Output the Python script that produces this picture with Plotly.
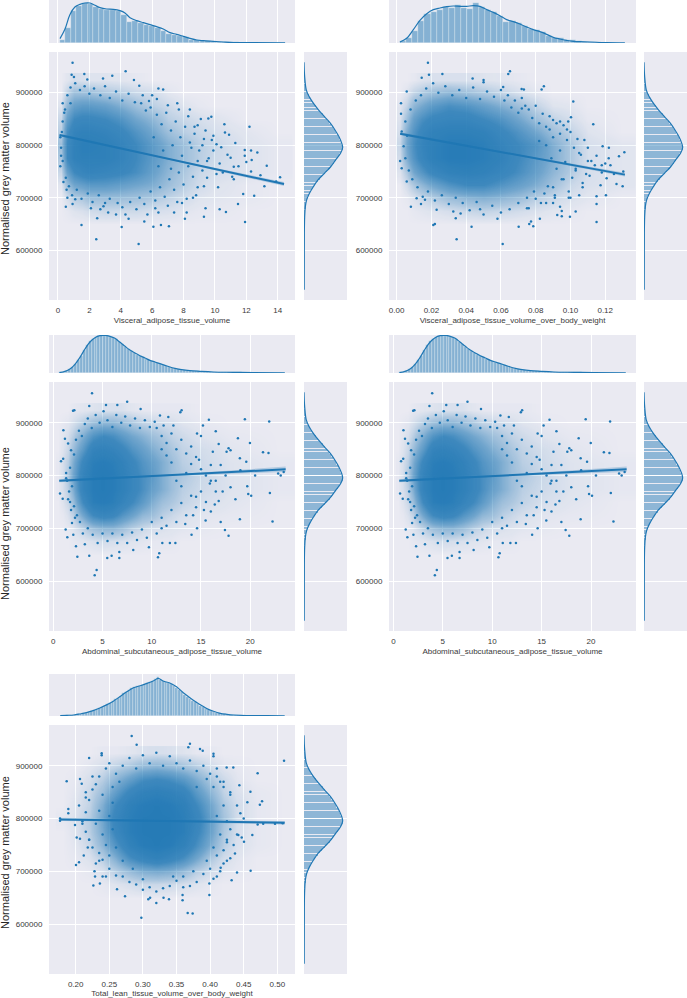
import numpy as np
import plotly.graph_objects as go

# NOTE: the reference holds thousands of dots that cannot be read one by one.
# The p*_pts / p*_more lists are a hand-read subset (outliers and the outer ring);
# the p*_dens grids are an eye-estimated density standing in for the solid centre.

# ---------- shared values ----------
y_ticks = [600000, 700000, 800000, 900000]
y_range = [505400, 977400]
y_rows = [650000, 675000, 700000, 725000, 750000, 775000, 800000, 825000, 850000, 875000, 900000, 925000]

# right marginal (same grey-matter values in every panel), relative heights
y_hist = [0.3,0,0,0,0,0,0,0,0,0,0,0,0,0,0,0.5,1,1,1.2,1,1,1,1.3,1.6,2,2.2,2.5,3,3.2,3.6,4.5,5.5,6.5,8,10,14,18,23,28,34,41,47,54,62,70,77,84,90,95,101,105,110,117,114,112,108,106,101,97,92,87,80,76,70,62,56,49,42,36,29,24,19,15,10,7,6,5,4,3,2,1.5,1,0.6,0.4,0.2]
y_kde_y = [958000,930400,905000,892000,880000,867000,854000,842000,829000,816000,804000,795500,785000,772000,759000,747000,734000,721000,708000,696000,683000,664000,632000,525000]
y_kde_h = [0,2,7,16,28,44,62,79,93,105,113,116,110,95,80,62,42,28,16,8,4,2,1,0.5]

# ---------- panel 1 ----------
p1_label = "Visceral_adipose_tissue_volume"
p1_ticks = [0, 2, 4, 6, 8, 10, 12, 14]
p1_hist = [10,45,95,112,120,118,107,103,100,98,96,85,63,65,60,55,50,45,37,26,24,20,17,10,8,7,6,4,3,3,2,2,1.5,1,1,1,1,0.7,0.5,0.5]
p1_kde_x = [.13,.45,.76,1.08,1.4,1.72,2.04,2.36,2.68,3.1,3.53,3.95,4.27,4.59,5.01,5.44,5.86,6.29,6.71,7.14,7.56,7.99,8.41,8.84,9.26,9.9,10.54,11.17,12.24,14.47]
p1_kde_h = [13,42,85,108,116,120,120,113,106,102,101,97,90,76,67,61,55,49,42,31,26,20,14,9,7,5,3,1.5,1,0.5]
p1_fit_x = [0.1, 7.0, 14.4]
p1_fit_y = [819500, 774000, 726000]
p1_fit_ci = [2500, 1200, 3800]
p1_pts_x = [.93,.87,1.02,1.68,1.87,2.87,3.46,4.31,4.84,5.18,2.44,5.14,1.5,4.06,6.08,6.56,7.07,11.92,8.09,9.3,2.5,.5,.93,12.2,9.77,9.58,10.64,11.3,11.9,12.3,12.7,13.3,14.15,13.9,13.15,12.5,11.8,11.47,10.7,10.3,12.9,12.3,12.34,11.9,11.2,6.7,6.4,6.0,7.6,8.4,9.1,10.6,10.9,9.8,9.2,8.7,9.5,10.1,8.9,3.2,4.3,3.8,2.1,1.1,.6,.2,.15,.3,.25,.4,8.2,7.9,8.6,9.4,10.2,11.1,4.5,5.5,6.2,7.4,3.0,2.7,.35,.55,.8]
p1_pts_y = [957,934,930,935.5,925,927,932,941,924,913,621,612,648,644.5,645,648,646,654,660,664,661,683,688,835,854,851,824,804,791,790,786,761,739,731,722,704,707,688,673,678,743,750,772,780,759,906,908,895,880,868,850,840,820,810,800,835,770,745,720,672,668,690,680,697,700,780,760,880,825,862,672,690,700,680,720,740,660,655,680,672,690,678,730,715,880]
p1_more = [(5.3,880),(5.6,866),(5.9,872),(6.3,858),(6.6,840),(6.9,862),(7.2,828),(7.5,845),(7.8,815),(8.1,835),(8.4,805),(8.7,822),(9.0,790),(9.3,812),(9.6,775),(5.2,700),(5.5,688),(5.9,712),(6.2,695),(6.5,720),(6.8,702),(7.1,735),(7.4,715),(7.7,748),(8,725),(8.3,760),(8.6,740),(8.9,770),(9.2,752),(9.5,738),(9.9,790),(10.3,765),(10.1,802),(10.5,748),(10.8,782),(11.2,735),(9.3,722),(8.8,705),(8.2,698),(7.6,692),(7.0,685),(6.4,672),(5.7,668),(5.0,678),(4.6,692),(4.1,682),(3.7,668),(3.3,698),(2.9,684),(2.6,705),(2.2,692),(1.9,708),(1.5,698),(1.2,715),(.9,705),(.7,722),(.5,738),(.3,770),(.2,795),(.15,815),(.3,845),(.45,868),(.6,895),(.8,910),(1.1,918),(1.4,905),(1.7,912),(2.0,898),(2.3,908),(2.7,895),(3.0,912),(3.3,890),(3.7,902),(4.1,885),(4.5,898),(4.9,882),(5.4,895),(5.8,884),(6.3,888),(7.0,876),(7.7,868),(8.3,855),(8.9,838),(9.4,828),(9.9,818),(10.4,796),(11.0,776),(11.5,760),(12.0,768),(7.3,800),(7.9,780),(8.5,795),(6.7,790),(6.1,815),(6.4,760),(7.2,755)]

# ---------- panel 2 ----------
p2_label = "Visceral_adipose_tissue_volume_over_body_weight"
p2_ticks = [0.0, 0.02, 0.04, 0.06, 0.08, 0.10, 0.12]
p2_hist = [5,15,37,65,88,92,100,108,106,115,105,103,120,108,100,92,80,62,65,60,52,42,38,33,22,16,14,10,8,5,4,3,2,1.5,1,1,0.8]
p2_kde_x = [.0019,.0058,.0096,.0134,.0173,.0211,.0249,.0288,.0326,.0364,.0403,.0441,.0479,.0518,.0556,.0594,.0633,.0671,.0709,.0748,.0786,.0824,.0863,.0901,.0939,.0978,.1016,.1054,.1112,.1208,.1313]
p2_kde_h = [3,14,40,68,88,100,105,109,111,110,110,112,110,100,92,82,70,64,57,48,40,34,26,17,12,8,5,4,3,1,0.5]
p2_fit_x = [0.002, 0.066, 0.1313]
p2_fit_y = [822000, 783500, 744000]
p2_fit_ci = [2500, 1200, 3500]
p2_pts_x = [.018,.0186,.0144,.0263,.0437,.05,.05,.0652,.0642,.0613,.0719,.0732,.0847,.0834,.1016,.1003,.0987,.1131,.1185,.1221,.131,.1279,.1304,.13,.1265,.123,.118,.1208,.1173,.115,.1204,.115,.115,.0997,.103,.094,.095,.0924,.0824,.0773,.0786,.0763,.0702,.061,.0345,.0431,.0211,.022,.034,.0082,.014,.023,.0326,.0368,.0029,.0025,.0025,.0058,.002,.0029,.0058,.0115,.0163,.108,.105,.112,.098,.094,.107,.103,.091,.086,.09,.096,.099,.109,.088,.072,.076,.058,.048]
p2_pts_y = [957,934,928.5,935.5,927,924,920,941,935.5,911,907,906,912,906,883,853,845,840,798,795,786.5,779,750,722,726,762,762,737,724,703,705,688,654,664,674,683,675,667,660,655,646,650,645,612,621,645,648,650,661,683,688,677,674,670,826,860,880,902,770,756,731,699,696,810,785,770,830,845,720,755,700,690,720,735,700,745,830,870,680,660,678]
p2_more = [(.062,885),(.066,872),(.07,862),(.074,875),(.078,852),(.082,842),(.086,835),(.09,848),(.094,822),(.098,810),(.102,795),(.106,782),(.11,770),(.114,762),(.118,748),(.122,775),(.075,700),(.079,712),(.083,690),(.087,722),(.091,705),(.095,735),(.099,712),(.103,752),(.107,728),(.111,742),(.092,755),(.097,768),(.101,738),(.105,705),(.089,775),(.094,790),(.086,800),(.082,808),(.09,815),(.096,838),(.07,690),(.065,678),(.06,672),(.055,685),(.05,668),(.046,692),(.042,676),(.038,690),(.034,700),(.03,688),(.026,705),(.022,695),(.018,712),(.015,702),(.012,720),(.009,735),(.007,752),(.005,775),(.004,798),(.006,818),(.005,845),(.008,868),(.011,885),(.014,895),(.017,908),(.021,918),(.024,900),(.028,912),(.032,895),(.036,905),(.04,890),(.044,910),(.048,888),(.052,902),(.056,892),(.06,905),(.064,895),(.068,885),(.072,890),(.076,868),(.08,875),(.084,860),(.088,855),(.092,842),(.1,825),(.104,812),(.11,795),(.115,780),(.12,765),(.125,745),(.075,680),(.08,698),(.085,708),(.09,690),(.095,665),(.1,700)]

# ---------- panels 3 and 4 (same abdominal values) ----------
p3_label = "Abdominal_subcutaneous_adipose_tissue_volume"
p3_ticks = [0, 5, 10, 15, 20]
p3_hist = [2,4,7,12,18,27,40,52,70,83,96,102,108,111,113,112,111,108,104,102,92,86,78,72,66,61,55,52,47,42,39,36,32,30,27,24,21,18,15,13,11,10,9,7,7,6,5,5,4,4,3,3,3,3,2,2,2,2,2,2,2,2,1.5,1.5,1.5,1,1,1,1,1,1,1,1,1,1,0.7,0.7]
p3_kde_x = [.61,1.18,1.69,2.2,2.71,3.21,3.72,4.23,4.74,5.25,5.75,6.26,6.77,7.28,7.78,8.29,8.8,9.31,9.81,10.32,10.83,11.34,11.84,12.35,13.03,13.87,14.89,16.24,18.27,20.3,23.52]
p3_kde_h = [1,5,12,26,47,72,93,106,112,113,110,104,92,80,69,60,52,45,38,33,28,23,18,14,10,7,5,3,2,1,0.7]
p3_fit_x = [0.6, 12.0, 23.6]
p3_fit_y = [790000, 801000, 812000]
p3_fit_ci = [2500, 1200, 5000]
p3_pts_x = [3.93,3.65,2.0,2.13,5.35,6.5,7.5,8.87,13.03,12.9,11.68,10.83,15.8,19.46,21.93,19.97,18.75,21.3,21.86,17.8,17.6,18.95,19.6,22.84,23.4,23.1,20.5,22.0,20.1,19.8,19.7,22.27,18.95,17,17.43,17.8,15.47,14.04,12.4,11.84,11.07,10.76,10.63,9.71,8.12,6.7,6.7,5.92,5.48,4.4,4.2,3.65,2.44,2.3,1.42,1.25,2.03,3.2,.68,.95,.78,1.02,1.18,1.0,1.5,16.5,15.2,16.2,14.8,15.9,17.2,16.4,14.5,15.3,16.8,14.2,13.4,14.6,16,15,1.3,1.7,1.6,2.2,1.9]
p3_pts_y = [956,932,923,924,933.6,934,940,926,924,920,911,914,906,907,902.5,862,871,844,843,852,845,833,826,804,807,800,800,767,762,765,780,713,717,712,697,686,715,688,672,672,672,653,645,664,659,655,644,648,644,621,611,648,646,666,683,698,688,670,766,756,827,886,870,832,861,884,895,845,830,785,770,745,760,735,752,725,708,700,820,875,795,750,770,720,710]
p3_more = [(10.5,890),(11,875),(11.5,862),(12,880),(12.5,850),(13,868),(13.5,842),(14,855),(14.5,835),(15,812),(15.5,800),(16,790),(16.5,770),(17,820),(17.5,800),(18,778),(18.5,755),(19,810),(11,720),(11.5,705),(12,735),(12.5,712),(13,748),(13.5,725),(14,762),(14.5,740),(15,770),(15.5,750),(16,732),(16.5,790),(13,780),(13.5,805),(14,822),(12.5,790),(12,825),(11.5,838),(11,850),(11,700),(10.5,690),(10,712),(9.5,682),(9,698),(8.5,678),(8,692),(7.5,672),(7,688),(6.5,672),(6,690),(5.5,676),(5,690),(4.5,672),(4,688),(3.5,700),(3,690),(2.7,712),(2.4,725),(2.1,742),(1.8,735),(1.5,755),(1.9,780),(1.4,790),(1.7,815),(1.3,805),(2.1,840),(1.8,848),(2.3,868),(2.6,885),(2.9,875),(3.2,898),(3.5,908),(3.9,890),(4.3,915),(4.7,900),(5.1,922),(5.5,905),(6,892),(6.4,915),(6.9,900),(7.3,912),(7.8,895),(8.3,908),(8.8,890),(9.3,905),(9.8,892),(10.3,902),(11.2,895),(12.2,895),(14.6,880),(16.8,860),(18,848)]

# ---------- panel 5 ----------
p5_label = "Total_lean_tissue_volume_over_body_weight"
p5_ticks = [0.20, 0.25, 0.30, 0.35, 0.40, 0.45, 0.50]
p5_hist = [1,1.5,2,2.5,3,4,5,6,8,10,12,15,18,21,24,28,31,35,40,44,50,55,61,67,72,77,82,85,88,90,92,96,99,102,105,110,116,108,103,100,98,94,90,82,76,70,63,57,52,46,41,35,31,26,22,18,15,12,10,8,6.5,5,4,3.5,3,2.5,2,2,1.5,1.5,1.2,1,1,1,1,1,1,1,1,1,1,1,1,1]
p5_kde_x = [.177,.187,.197,.206,.216,.226,.236,.246,.256,.266,.276,.286,.296,.306,.316,.323,.330,.340,.350,.358,.365,.375,.385,.395,.405,.415,.425,.435,.454,.484,.511]
p5_kde_h = [1,2,3,6,10,16,24,33,44,58,72,84,90,97,105,112,104,98,87,73,62,47,34,22,14,8,5,3,1.5,1,0.7]
p5_fit_x = [0.177, 0.34, 0.511]
p5_fit_y = [798500, 795300, 792000]
p5_fit_ci = [3000, 1200, 3500]
p5_pts_x = [.2833,.2907,.37,.3676,.385,.389,.405,.405,.2387,.2387,.22,.51,.4707,.4345,.4246,.1866,.2064,.209,.46,.4773,.474,.4554,.4435,.189,.189,.1767,.1767,.4707,.479,.4965,.508,.4628,.4504,.447,.442,.437,.4603,.44,.432,.4157,.405,.3989,.3989,.374,.3666,.359,.359,.2977,.3388,.3307,.32,.3107,.308,.2734,.2615,.2263,.2288,.2005,.205,.236,.2015,.2064,.199,.43,.42,.41,.445,.425,.215,.225,.21,.218,.235,.212,.228,.22,.24,.425,.415]
p5_pts_y = [956.4,940,942,935,932,928.5,923,918,924,920,915,909.5,886,897,897,871,875,866,851,833,826,831,863,818,810,796,800,789,790,790,791,769,756,764,769,734,701,698,683,707,686,677,655,620,621,645,655,612,647,650,640,650,647,653,666,673,690,712,717,677,764,762,788,850,870,880,810,760,840,880,790,745,720,730,700,760,690,720,700]
p5_more = [(.235,880),(.245,895),(.25,905),(.26,885),(.27,900),(.28,915),(.29,895),(.3,920),(.31,905),(.32,925),(.33,900),(.34,918),(.35,905),(.36,895),(.37,910),(.38,890),(.39,900),(.4,885),(.41,895),(.42,860),(.43,845),(.44,825),(.45,800),(.43,780),(.44,770),(.425,755),(.435,750),(.42,740),(.43,725),(.41,730),(.42,715),(.40,705),(.41,690),(.39,695),(.38,680),(.37,672),(.36,670),(.35,682),(.34,672),(.33,668),(.32,662),(.31,670),(.3,665),(.29,675),(.28,680),(.27,690),(.26,692),(.25,705),(.245,690),(.24,722),(.235,735),(.23,715),(.225,745),(.22,760),(.215,775),(.21,795),(.215,812),(.205,825),(.22,835),(.215,850),(.23,865),(.225,855),(.24,845),(.235,815),(.23,790),(.24,770),(.245,750),(.25,730),(.255,860),(.265,870),(.415,870),(.405,860),(.42,825),(.41,805),(.425,795),(.415,770),(.405,745),(.395,720),(.375,700),(.36,690),(.3,685),(.285,705),(.27,720),(.26,745),(.255,780),(.25,805),(.255,830),(.395,875),(.38,860),(.345,690)]

# ---------- density of the dense centre of each cloud ----------
p1_dens_x = [.2,.6,1,1.5,2,3,4,5,6,7,8,9,10,12,14]
p1_dens = [
 [0]*15,
 [0,.01,.03,.04,.06,.08,.07,.07,.05,.04,.02,.01,.01,0,0],
 [0,.05,.12,.15,.2,.2,.2,.18,.15,.1,.06,.03,.02,.01,0],
 [.02,.2,.35,.4,.45,.45,.4,.35,.3,.2,.12,.06,.03,.01,0],
 [.08,.4,.6,.7,.75,.7,.65,.55,.4,.25,.15,.08,.05,.03,.01],
 [.15,.6,.8,.85,.85,.85,.75,.6,.45,.3,.2,.12,.07,.03,.01],
 [.2,.6,.8,.9,.9,.85,.75,.6,.45,.3,.2,.12,.08,.03,.01],
 [.12,.55,.75,.8,.8,.75,.65,.5,.35,.2,.12,.08,.05,.02,0],
 [.08,.4,.6,.65,.65,.6,.5,.35,.25,.12,.08,.05,.03,0,0],
 [.03,.25,.4,.45,.45,.4,.3,.2,.12,.07,.03,.01,0,0,0],
 [0,.1,.2,.2,.2,.15,.12,.08,.06,.02,0,0,0,0,0],
 [0,.02,.05,.04,.03,.03,.02,.01,0,0,0,0,0,0,0],
]
p2_dens_x = [.002,.006,.01,.015,.02,.03,.04,.05,.06,.07,.08,.09,.1,.11,.13]
p2_dens = [
 [0]*15,
 [0,0,.01,.02,.03,.05,.08,.1,.08,.06,.04,.02,.01,0,0],
 [0,.01,.04,.08,.12,.2,.25,.28,.25,.2,.12,.08,.04,.02,0],
 [0,.06,.15,.25,.35,.5,.6,.6,.5,.4,.3,.18,.08,.04,.02],
 [.03,.15,.35,.5,.65,.8,.85,.8,.7,.55,.4,.25,.13,.05,.02],
 [.06,.3,.5,.7,.85,.95,.95,.9,.8,.6,.45,.3,.15,.05,.02],
 [.08,.35,.55,.75,.85,.95,.95,.9,.75,.6,.5,.3,.15,.05,.02],
 [.05,.3,.5,.7,.8,.85,.85,.8,.65,.5,.35,.2,.1,.03,0],
 [.03,.2,.4,.55,.65,.7,.7,.6,.5,.35,.2,.1,.05,.01,0],
 [.02,.1,.25,.35,.45,.55,.5,.4,.3,.2,.1,.03,.02,0,0],
 [0,.03,.1,.15,.2,.25,.2,.15,.1,.05,.02,0,0,0,0],
 [0,0,.01,.03,.04,.04,.04,.03,.02,.01,0,0,0,0,0],
]
p3_dens_x = [.5,1,1.5,2,3,4,5,6,7,8,9,10,11,12,13,15,18,23]
p3_dens = [
 [0]*18,
 [0,0,0,.01,.02,.04,.06,.05,.04,.03,.02,.01,.01,.01,0,0,0,0],
 [0,0,.01,.03,.1,.2,.25,.25,.2,.12,.08,.05,.04,.03,.02,.01,0,0],
 [0,.01,.04,.1,.35,.6,.7,.65,.5,.38,.25,.2,.12,.08,.05,.02,.01,0],
 [0,.03,.08,.2,.6,.9,.95,.9,.75,.6,.45,.3,.2,.15,.1,.05,.02,0],
 [.01,.05,.12,.3,.75,.95,1,.95,.85,.7,.55,.4,.3,.2,.12,.07,.03,.01],
 [.01,.05,.15,.35,.75,.95,1,.95,.85,.7,.55,.45,.3,.2,.15,.08,.03,.01],
 [.01,.05,.12,.3,.65,.9,.95,.9,.8,.65,.5,.4,.3,.2,.12,.07,.03,.01],
 [0,.03,.08,.2,.45,.75,.8,.75,.65,.5,.4,.3,.22,.15,.1,.06,.02,0],
 [0,.02,.05,.12,.3,.5,.6,.55,.45,.35,.28,.2,.15,.1,.07,.03,.01,0],
 [0,.01,.02,.05,.12,.2,.25,.25,.2,.15,.1,.08,.06,.05,.03,.01,0,0],
 [0,0,0,.01,.02,.03,.04,.04,.04,.02,.01,.01,.01,.01,.01,0,0,0],
]
p5_dens_x = [.18,.2,.22,.24,.26,.28,.30,.32,.34,.36,.38,.40,.42,.44,.47,.51]
p5_dens = [
 [0]*16,
 [0,0,0,.01,.03,.05,.08,.08,.07,.05,.03,.01,0,0,0,0],
 [0,0,.01,.04,.12,.22,.3,.33,.3,.22,.12,.06,.02,.01,0,0],
 [0,.01,.04,.12,.3,.55,.7,.8,.7,.55,.35,.15,.06,.02,0,0],
 [0,.02,.08,.25,.5,.8,.95,1,.95,.8,.55,.3,.12,.04,.01,0],
 [0,.03,.12,.32,.65,.9,1,1,1,.9,.65,.38,.15,.05,.01,0],
 [.01,.04,.13,.35,.7,.9,1,1,1,.9,.7,.4,.18,.06,.01,0],
 [0,.03,.1,.3,.6,.85,.95,1,.95,.85,.6,.35,.15,.06,.01,0],
 [0,.02,.08,.2,.42,.65,.8,.85,.8,.7,.45,.25,.1,.04,.01,0],
 [0,.01,.05,.12,.25,.4,.55,.6,.55,.45,.3,.15,.07,.02,0,0],
 [0,0,.02,.05,.1,.15,.22,.25,.22,.17,.12,.06,.02,.01,0,0],
 [0,0,0,.01,.01,.02,.04,.05,.04,.03,.01,.01,0,0,0,0],
]

# ---------- layout in pixels ----------
W, H = 687, 998
BLUE = "#1f77b4"
BG = "#eaeaf2"
TXT = "#3a3a3a"
FONT = "Liberation Sans, Arial, sans-serif"

panels = [
 dict(label=p1_label, ticks=p1_ticks, fmt="d", xr=[-0.57, 15.1], hist=p1_hist, hspan=(0.1, 14.4), kx=p1_kde_x, kh=p1_kde_h,
      fx=p1_fit_x, fy=p1_fit_y, fc=p1_fit_ci, px=p1_pts_x, py=p1_pts_y, more=p1_more, dx=p1_dens_x, dz=p1_dens,
      left=49, right=295, rl=304, rr=347, top=52, bot=300, mt=0, mb=43, mmax=129, ytitle=179),
 dict(label=p2_label, ticks=p2_ticks, fmt=".2f", xr=[-0.0044, 0.1377], hist=p2_hist, hspan=(0.002, 0.1313), kx=p2_kde_x, kh=p2_kde_h,
      fx=p2_fit_x, fy=p2_fit_y, fc=p2_fit_ci, px=p2_pts_x, py=p2_pts_y, more=p2_more, dx=p2_dens_x, dz=p2_dens,
      left=389, right=636, rl=644, rr=687, top=52, bot=300, mt=0, mb=43, mmax=129, ytitle=None),
 dict(label=p3_label, ticks=p3_ticks, fmt="d", xr=[-0.44, 24.55], hist=p3_hist, hspan=(0.6, 23.6), kx=p3_kde_x, kh=p3_kde_h,
      fx=p3_fit_x, fy=p3_fit_y, fc=p3_fit_ci, px=p3_pts_x, py=p3_pts_y, more=p3_more, dx=p3_dens_x, dz=p3_dens,
      left=49, right=295, rl=304, rr=347, top=382, bot=631, mt=335, mb=373, mmax=114, ytitle=524),
 dict(label=p3_label, ticks=p3_ticks, fmt="d", xr=[-0.44, 24.55], hist=p3_hist, hspan=(0.6, 23.6), kx=p3_kde_x, kh=p3_kde_h,
      fx=p3_fit_x, fy=p3_fit_y, fc=p3_fit_ci, px=p3_pts_x, py=p3_pts_y, more=p3_more, dx=p3_dens_x, dz=p3_dens,
      left=389, right=636, rl=644, rr=687, top=382, bot=631, mt=335, mb=373, mmax=114, ytitle=None),
 dict(label=p5_label, ticks=p5_ticks, fmt=".2f", xr=[0.1603, 0.5263], hist=p5_hist, hspan=(0.178, 0.511), kx=p5_kde_x, kh=p5_kde_h,
      fx=p5_fit_x, fy=p5_fit_y, fc=p5_fit_ci, px=p5_pts_x, py=p5_pts_y, more=p5_more, dx=p5_dens_x, dz=p5_dens,
      left=49, right=295, rl=304, rr=347, top=725, bot=974, mt=674, mb=716, mmax=125, ytitle=853),
]

fig = go.Figure()
layout = {}
annotations = []
SCALE = [[0, "rgba(31,119,180,0)"], [0.15, "rgba(31,119,180,0.3)"], [0.35, "rgba(31,119,180,0.6)"], [0.6, "rgba(31,119,180,0.85)"], [1, "rgba(31,119,180,0.97)"]]
y_bin_centres = np.linspace(527500, 955500, len(y_hist))
y_bin_w = y_bin_centres[1] - y_bin_centres[0]


def axis_id(n):
    return "" if n == 1 else str(n)


n = 1
for p in panels:
    main, topm, rightm = axis_id(n), axis_id(n + 1), axis_id(n + 2)
    n += 3
    xdom = [p["left"] / W, p["right"] / W]
    ydom = [1 - p["bot"] / H, 1 - p["top"] / H]
    base = dict(showline=False, zeroline=False, gridcolor="white", gridwidth=1, fixedrange=True)
    font = dict(family=FONT, size=8, color=TXT)
    layout["xaxis" + main] = dict(domain=xdom, range=p["xr"], anchor="y" + main, tickvals=p["ticks"], tickformat=p["fmt"], showgrid=True,
                                  ticks="outside", ticklen=2, tickcolor="rgba(0,0,0,0)", tickfont=font,
                                  title=dict(text=p["label"], font=font, standoff=3), **base)
    layout["yaxis" + main] = dict(domain=ydom, range=y_range, anchor="x" + main, tickvals=y_ticks, showgrid=True, tickformat="d",
                                  ticks="outside", ticklen=4, tickcolor="rgba(0,0,0,0)", tickfont=font, **base)
    layout["xaxis" + topm] = dict(domain=xdom, range=p["xr"], anchor="y" + topm, tickvals=p["ticks"], showticklabels=False, showgrid=True, **base)
    layout["yaxis" + topm] = dict(domain=[1 - p["mb"] / H, 1 - p["mt"] / H], range=[0, p["mmax"]], anchor="x" + topm, showticklabels=False, showgrid=False, **base)
    layout["xaxis" + rightm] = dict(domain=[p["rl"] / W, p["rr"] / W], range=[0, 129], anchor="y" + rightm, showticklabels=False, showgrid=False, **base)
    layout["yaxis" + rightm] = dict(domain=ydom, range=y_range, anchor="x" + rightm, tickvals=y_ticks, showticklabels=False, showgrid=True, **base)

    if p["ytitle"] is not None:
        annotations.append(dict(text="Normalised grey matter volume", xref="paper", yref="paper", x=5 / W, y=1 - p["ytitle"] / H,
                                textangle=-90, showarrow=False, xanchor="center", yanchor="middle",
                                font=dict(family=FONT, size=11, color="#262626")))

    ax = dict(xaxis="x" + main, yaxis="y" + main)
    fig.add_trace(go.Heatmap(x=p["dx"], y=y_rows, z=p["dz"], zmin=0, zmax=1, zsmooth="best", colorscale=SCALE, showscale=False, hoverinfo="skip", **ax))
    all_x = list(p["px"]) + [m[0] for m in p["more"]]
    all_y = [v * 1000 for v in p["py"]] + [m[1] * 1000 for m in p["more"]]
    fig.add_trace(go.Scatter(x=all_x, y=all_y, mode="markers", marker=dict(color=BLUE, size=2.5, line=dict(width=0)), **ax))
    fx, fy, fc = np.array(p["fx"]), np.array(p["fy"]), np.array(p["fc"])
    fig.add_trace(go.Scatter(x=list(fx) + list(fx[::-1]), y=list(fy + fc) + list((fy - fc)[::-1]), mode="lines", line=dict(width=0), fill="toself", fillcolor="rgba(31,119,180,0.25)", **ax))
    fig.add_trace(go.Scatter(x=p["fx"], y=p["fy"], mode="lines", line=dict(color=BLUE, width=2), **ax))

    bx = np.linspace(p["hspan"][0], p["hspan"][1], len(p["hist"]) + 1)
    bc = (bx[:-1] + bx[1:]) / 2
    fig.add_trace(go.Bar(x=bc, y=p["hist"], width=(bx[1] - bx[0]), marker=dict(color="rgba(31,119,180,0.5)", line=dict(color="rgba(255,255,255,0.55)", width=0.5)), xaxis="x" + topm, yaxis="y" + topm))
    fig.add_trace(go.Scatter(x=p["kx"], y=p["kh"], mode="lines", line=dict(color=BLUE, width=1.2, shape="spline"), xaxis="x" + topm, yaxis="y" + topm))

    fig.add_trace(go.Bar(y=y_bin_centres, x=y_hist, orientation="h", width=y_bin_w * 0.85, marker=dict(color="rgba(31,119,180,0.45)", line=dict(width=0)), xaxis="x" + rightm, yaxis="y" + rightm))
    fig.add_trace(go.Scatter(y=y_kde_y, x=y_kde_h, mode="lines", line=dict(color=BLUE, width=1.2, shape="spline"), xaxis="x" + rightm, yaxis="y" + rightm))

fig.update_layout(width=W, height=H, margin=dict(l=0, r=0, t=0, b=0), paper_bgcolor="white", plot_bgcolor=BG, showlegend=False, bargap=0, annotations=annotations, **layout)
fig.write_html("out.html", config={"displayModeBar": False}, post_script="document.body.style.margin='0';document.documentElement.style.overflow='hidden';")
